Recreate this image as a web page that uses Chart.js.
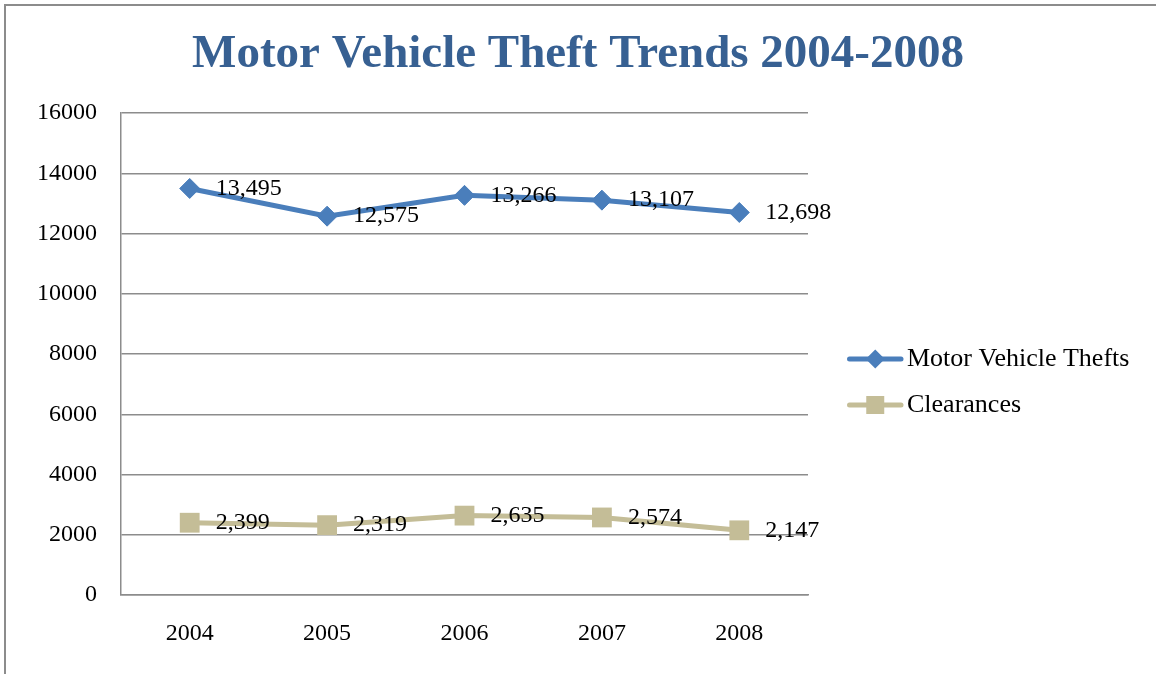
<!DOCTYPE html>
<html><head><meta charset="utf-8">
<script src="https://cdn.jsdelivr.net/npm/chart.js@4/dist/chart.umd.min.js"></script>
<style>
html,body{margin:0;padding:0;background:#fff;overflow:hidden}
#wrap{position:relative;width:1156px;height:674px;overflow:hidden}
#frame{position:absolute;left:4px;top:4px;width:1200px;height:700px;border:2px solid #8c8c8c;box-sizing:border-box;pointer-events:none}
canvas{position:absolute;left:0;top:0}
</style></head><body>
<div id="wrap"><canvas id="c" width="1156" height="674"></canvas><div id="frame"></div></div>
<script>
// ---- data ----
const chartTitle = 'Motor Vehicle Theft Trends 2004-2008';
const categories = ['2004', '2005', '2006', '2007', '2008'];
const seriesNames = ['Motor Vehicle Thefts', 'Clearances'];
const theftValues = [13495, 12575, 13266, 13107, 12698];
const clearanceValues = [2399, 2319, 2635, 2574, 2147];
const yMin = 0, yMax = 16000, yStep = 2000;

// ---- style ----
const BLUE = '#4A7EBB';
const TAN = '#C4BD97';
const GRID = '#8c8c8c';
const SERIF = '"Liberation Serif", "Times New Roman", serif';
const LEG_FONT = 26, LEG_PAD = 20, LEG_BOX = 66;

function legendGlyph(color, shape) {
  const c = document.createElement('canvas');
  c.width = 90; c.height = 26;
  const g = c.getContext('2d');
  g.strokeStyle = color; g.fillStyle = color; g.lineWidth = 5; g.lineCap = 'round';
  const my = 13;
  g.beginPath(); g.moveTo(33.5, my); g.lineTo(85, my); g.stroke();
  const mx = 59.25;
  g.beginPath();
  if (shape === 'diamond') {
    const r = 9.5;
    g.moveTo(mx - r, my); g.lineTo(mx, my - r); g.lineTo(mx + r, my); g.lineTo(mx, my + r); g.closePath();
  } else {
    const h = 9;
    g.rect(mx - h, my - h, 2 * h, 2 * h);
  }
  g.fill();
  return c;
}
const glyphs = [legendGlyph(BLUE, 'diamond'), legendGlyph(TAN, 'square')];

const dataLabels = {
  id: 'dataLabels',
  afterDatasetsDraw(chart) {
    const ctx = chart.ctx;
    ctx.save();
    ctx.font = '24px ' + SERIF;
    ctx.fillStyle = '#000';
    ctx.textAlign = 'left';
    ctx.textBaseline = 'middle';
    chart.data.datasets.forEach((ds, i) => {
      const meta = chart.getDatasetMeta(i);
      meta.data.forEach((pt, j) => {
        ctx.fillText(ds.data[j].toLocaleString('en-US'), pt.x + 26, pt.y);
      });
    });
    ctx.restore();
  }
};

const legendWidthFix = {
  id: 'legendWidthFix',
  beforeLayout(chart) {
    const lg = chart.legend;
    if (lg && !lg._fixed) {
      const f = lg.fit.bind(lg);
      lg.fit = function () { f(); this.width = 348; };
      lg._fixed = true;
    }
  }
};

new Chart(document.getElementById('c'), {
  type: 'line',
  data: {
    labels: categories,
    datasets: [
      {
        label: seriesNames[0], data: theftValues,
        borderColor: BLUE, backgroundColor: BLUE, borderWidth: 5,
        pointStyle: 'rectRot', pointRadius: 10, pointBorderWidth: 1,
        pointBackgroundColor: BLUE, pointBorderColor: BLUE, tension: 0
      },
      {
        label: seriesNames[1], data: clearanceValues,
        borderColor: TAN, backgroundColor: TAN, borderWidth: 5,
        pointStyle: 'rect', pointRadius: 14, pointBorderWidth: 0,
        pointBackgroundColor: TAN, pointBorderColor: TAN, tension: 0
      }
    ]
  },
  options: {
    responsive: false,
    animation: false,
    devicePixelRatio: 1,
    events: [],
    layout: { padding: 0 },
    scales: {
      x: {
        type: 'category',
        offset: true,
        grid: { display: false, drawTicks: false },
        border: { display: true, color: GRID, width: 1.5 },
        ticks: { color: '#000', font: { family: SERIF, size: 24 }, padding: 24.6, maxRotation: 0 },
        afterFit(s) { s.height = 79; }
      },
      y: {
        min: yMin, max: yMax,
        grid: { color: GRID, lineWidth: 1.5, drawTicks: false },
        border: { display: true, color: GRID, width: 1.5 },
        ticks: { stepSize: yStep, color: '#000', font: { family: SERIF, size: 24 }, padding: 24,
                 callback: v => String(v) },
        afterFit(s) { s.width = 121; }
      }
    },
    plugins: {
      title: {
        display: true, text: chartTitle, color: '#376092',
        font: { family: SERIF, size: 47, weight: 'bold' },
        padding: { top: 27, bottom: 29.6 }
      },
      legend: {
        display: true, position: 'right', align: 'center',
        title: { display: true, text: ' ', font: { size: 10 }, padding: { top: 39, bottom: 39 } },
        labels: {
          color: '#000', font: { family: SERIF, size: LEG_FONT },
          usePointStyle: true, pointStyleWidth: LEG_BOX, padding: LEG_PAD,
          generateLabels(chart) {
            return chart.data.datasets.map((ds, i) => ({
              text: ds.label, pointStyle: glyphs[i], fillStyle: ds.borderColor,
              strokeStyle: ds.borderColor, lineWidth: 0, hidden: false, datasetIndex: i, fontColor: '#000'
            }));
          }
        }
      },
      tooltip: { enabled: false }
    }
  },
  plugins: [dataLabels, legendWidthFix]
});
</script>
</body></html>
